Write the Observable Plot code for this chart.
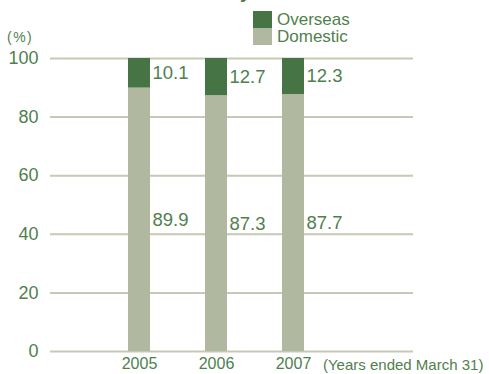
<!DOCTYPE html>
<html>
<head>
<meta charset="utf-8">
<script src="https://cdn.jsdelivr.net/npm/d3@7"></script>
<script src="https://cdn.jsdelivr.net/npm/@observablehq/plot@0.6"></script>
<style>
  body { margin: 0; background: #fff; font-family: "Liberation Sans", Arial, sans-serif; }
  #wrap { position: relative; width: 489px; height: 374px; overflow: hidden; }
  #title { position: absolute; left: 30px; top: -20px; font-size: 19px; font-weight: bold; color: #4a7a47; white-space: nowrap; line-height: 23px; }
  .leg { position: absolute; left: 253px; display: flex; align-items: center; font-size: 17px; line-height: 17px; color: #4f7f4d; height: 17px; }
  .leg span.sw { display: inline-block; width: 19px; height: 17px; margin-right: 5px; }
  #unit { position: absolute; left: 7px; top: 29px; font-size: 14px; letter-spacing: 1.5px; color: #4f7f4d; }
  #note { position: absolute; left: 323px; top: 356px; font-size: 15px; line-height: 17px; color: #4f7f4d; white-space: nowrap; }
  svg { position: absolute; left: 0; top: 0; }
</style>
</head>
<body>
<div id="wrap">
  <div id="title">Net Sales Breakdown by Market</div>
  <div class="leg" style="top:11px"><span class="sw" style="background:#477444"></span>Overseas</div>
  <div class="leg" style="top:28px"><span class="sw" style="background:#b0b89f"></span>Domestic</div>
  <div id="unit">(%)</div>
  <div id="note">(Years ended March 31)</div>
</div>
<script>
const years = ["2005", "2006", "2007"];
const domestic = [89.9, 87.3, 87.7];
const overseas = [10.1, 12.7, 12.3];
const seriesNames = ["Domestic", "Overseas"];
const seriesColors = ["#b0b89f", "#477444"];
const yTicks = [0, 20, 40, 60, 80, 100];

const rows = [];
years.forEach((yr, i) => {
  rows.push({year: yr, series: "Domestic", value: domestic[i]});
  rows.push({year: yr, series: "Overseas", value: overseas[i]});
});
const domLabels = years.map((yr, i) => ({year: yr, y: domestic[i] / 2, label: domestic[i].toFixed(1)}));
const ovLabels = years.map((yr, i) => ({year: yr, y: domestic[i] + overseas[i] / 2, label: overseas[i].toFixed(1)}));

const textColor = "#4f7f4d";

const chart = Plot.plot({
  width: 489,
  height: 374,
  marginTop: 58,
  marginBottom: 23,
  marginLeft: 50,
  marginRight: 76,
  style: {fontFamily: "Liberation Sans, Arial, sans-serif", background: "transparent", overflow: "visible"},
  x: {domain: years, range: [100, 332], paddingInner: 0.718, paddingOuter: 0.359, label: null},
  y: {domain: [0, 100], label: null},
  color: {domain: seriesNames, range: seriesColors},
  marks: [
    Plot.ruleY(yTicks, {stroke: "#c5c9b5", strokeWidth: 2}),
    Plot.barY(rows, {x: "year", y: "value", fill: "series", order: seriesNames, inset: 0}),
    Plot.text(domLabels, {x: "year", y: "y", text: "label", textAnchor: "start", dx: 13, fill: textColor, fontSize: 18.5}),
    Plot.text(ovLabels, {x: "year", y: "y", text: "label", textAnchor: "start", dx: 13, fill: textColor, fontSize: 18.5}),
    Plot.axisY({ticks: yTicks, tickSize: 0, tickPadding: 12, fontSize: 18, fill: textColor, label: null}),
    Plot.axisX({tickSize: 0, tickPadding: 6, fontSize: 16, fill: textColor, label: null})
  ]
});
document.getElementById("wrap").prepend(chart);
</script>
</body>
</html>
